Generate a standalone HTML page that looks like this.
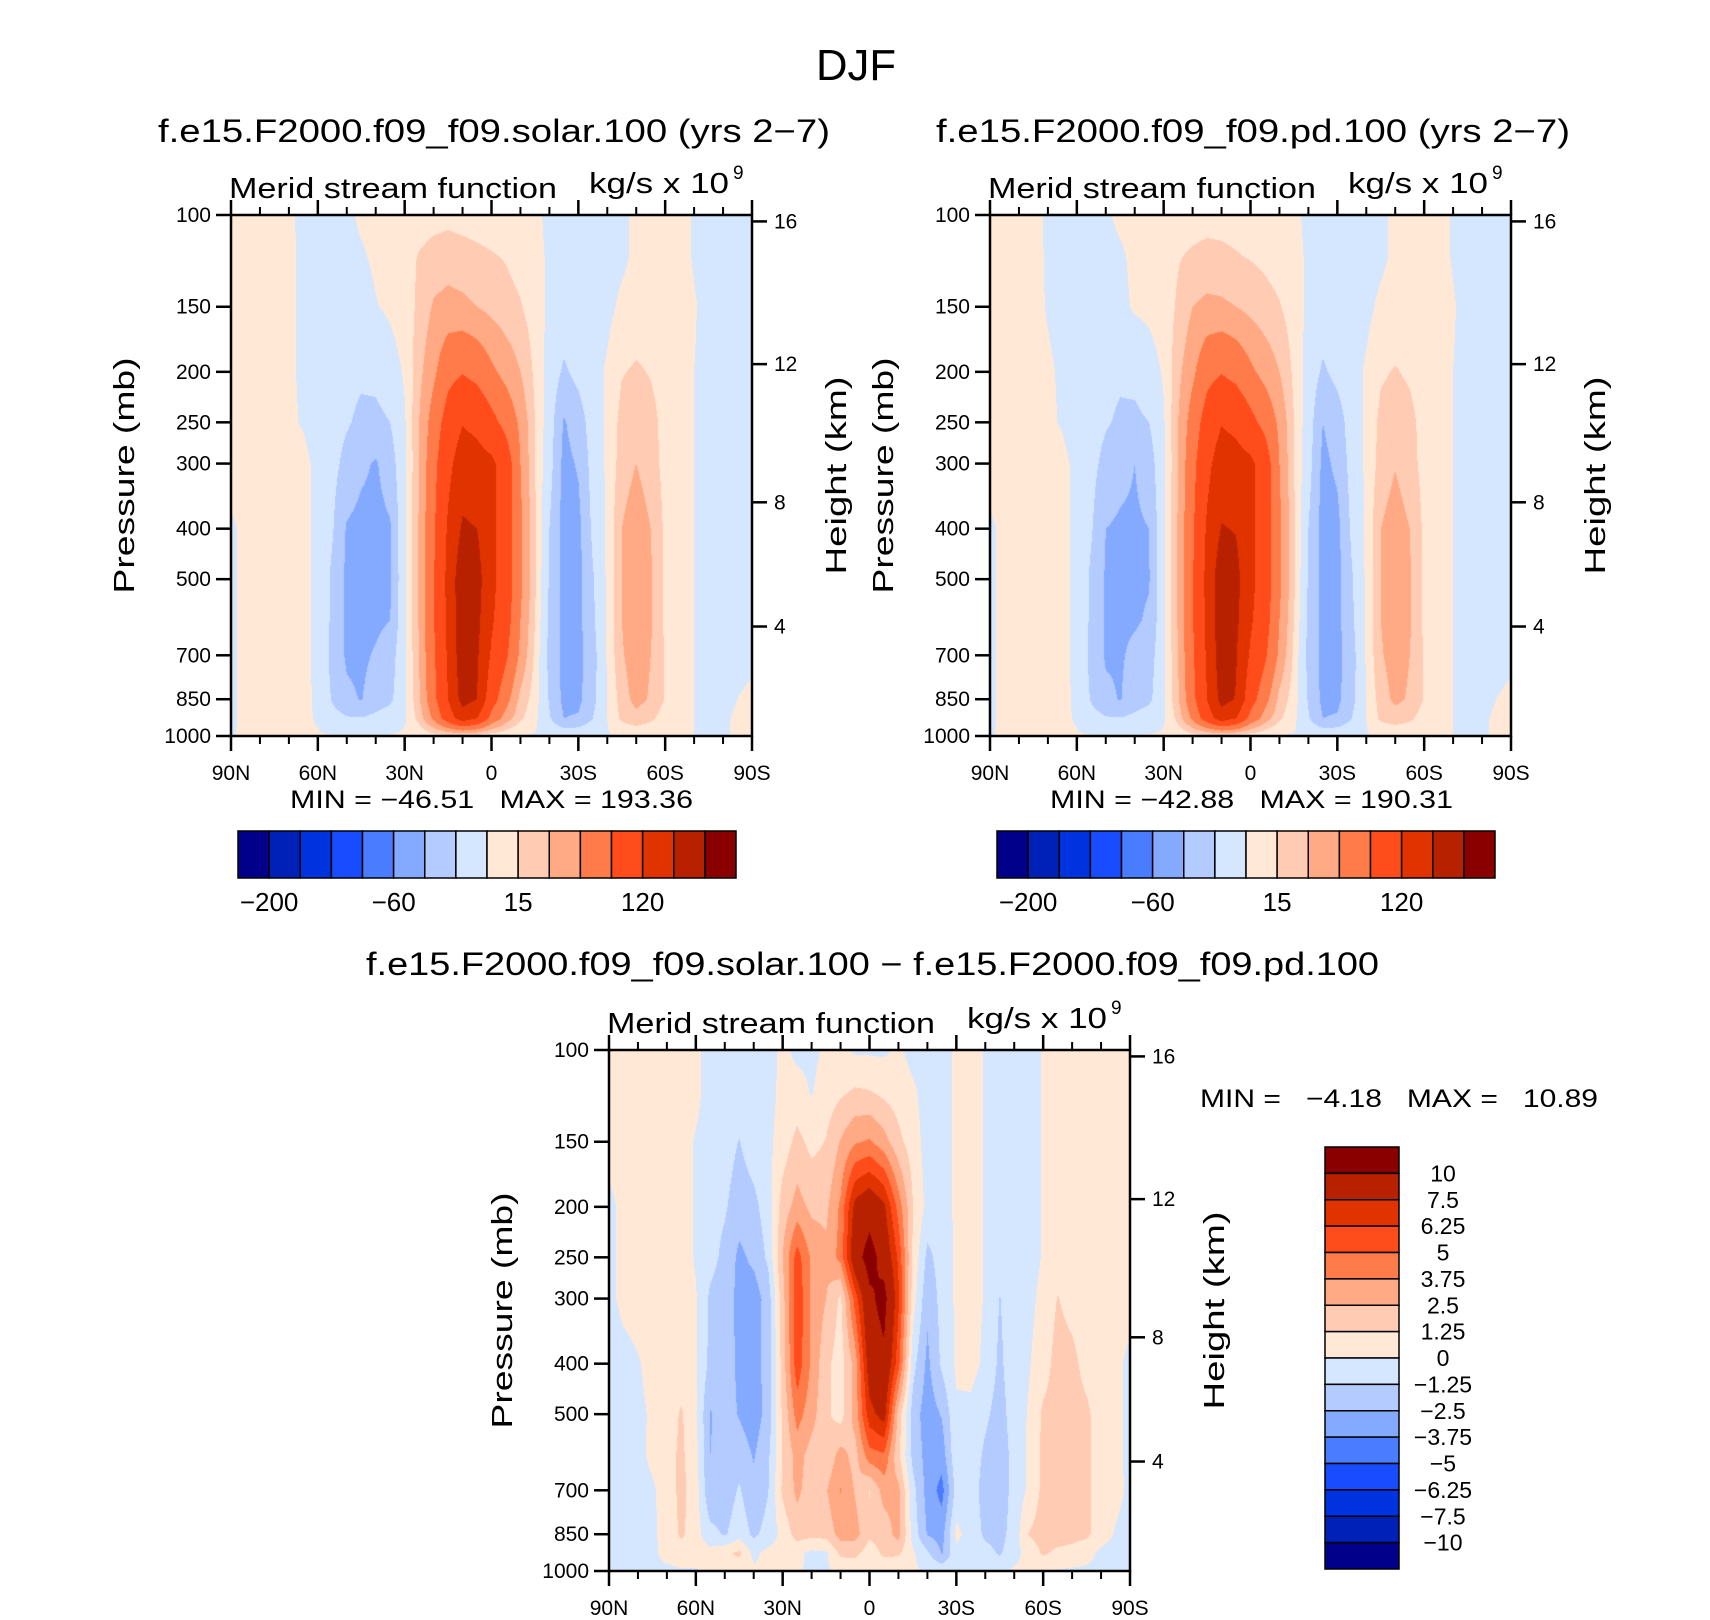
<!DOCTYPE html>
<html><head><meta charset="utf-8"><title>DJF Merid stream function</title>
<style>
html,body{margin:0;padding:0;background:#fff;}
#root{position:relative;width:1710px;height:1620px;background:#fff;overflow:hidden;}
canvas{position:absolute;}
svg{position:absolute;left:0;top:0;}
text{font-family:"Liberation Sans",sans-serif;fill:#000;}
</style></head>
<body>
<div id="root">
<canvas id="cv-solar" width="521" height="521" style="left:231px;top:215px;width:521px;height:521px"></canvas>
<canvas id="cv-pd" width="521" height="521" style="left:990px;top:215px;width:521px;height:521px"></canvas>
<canvas id="cv-diff" width="521" height="521" style="left:609px;top:1050px;width:521px;height:521px"></canvas>
<svg id="ov" width="1710" height="1620" viewBox="0 0 1710 1620">
<text x="856" y="80" font-size="44" text-anchor="middle" textLength="80" lengthAdjust="spacingAndGlyphs">DJF</text>
<text x="158" y="142" font-size="32" textLength="672" lengthAdjust="spacingAndGlyphs">f.e15.F2000.f09_f09.solar.100 (yrs 2−7)</text>
<text x="936" y="142" font-size="32" textLength="634" lengthAdjust="spacingAndGlyphs">f.e15.F2000.f09_f09.pd.100 (yrs 2−7)</text>
<text x="366" y="975" font-size="32" textLength="1013" lengthAdjust="spacingAndGlyphs">f.e15.F2000.f09_f09.solar.100 − f.e15.F2000.f09_f09.pd.100</text>
<text x="1200" y="1107" font-size="25" textLength="398" lengthAdjust="spacingAndGlyphs" xml:space="preserve">MIN =   −4.18   MAX =   10.89</text>
<text x="290" y="808" font-size="25" textLength="403" lengthAdjust="spacingAndGlyphs" xml:space="preserve">MIN = −46.51   MAX = 193.36</text>
<text x="1050" y="808" font-size="25" textLength="403" lengthAdjust="spacingAndGlyphs" xml:space="preserve">MIN = −42.88   MAX = 190.31</text>
<g id="axes"></g>
</svg>
</div>
<script>
// ---------- data ----------
const pressureLevels = [100,120,150,200,250,300,400,500,600,700,850,925,1000];
const latitudes = [90,85,80,75,70,65,60,55,50,45,40,35,30,25,20,15,10,5,0,-5,-10,-15,-20,-25,-30,-35,-40,-45,-50,-55,-60,-65,-70,-75,-80,-85,-90];
const levelsTop = [-200,-150,-100,-80,-60,-40,-20,0,15,30,50,80,120,160,200];
const levelsDiff = [-10,-7.5,-6.25,-5,-3.75,-2.5,-1.25,0,1.25,2.5,3.75,5,6.25,7.5,10];
const topBarLabels = ["−200","−60","15","120"];
const topBarLabelIdx = [0,4,8,12];
const diffBarLabels = ["10","7.5","6.25","5","3.75","2.5","1.25","0","−1.25","−2.5","−3.75","−5","−6.25","−7.5","−10"];
const pressureTicks = [100,150,200,250,300,400,500,700,850,1000];
const latMajorTicks = [90,60,30,0,-30,-60,-90];
const latMajorLabels = ["90N","60N","30N","0","30S","60S","90S"];
const latMinorTicks = [80,70,50,40,20,10,-10,-20,-40,-50,-70,-80];
const heightTicks = [4,8,12,16];
const palette = ["#00008a","#0021b8","#0033e0","#1a4cff","#4a7cff","#84aaff","#b3cbff","#d5e7ff","#ffe8d5","#ffcbb3","#ffaa84","#ff7c4a","#ff4c1a","#e03300","#b82100","#8a0000"];

const fieldSolar = [
[5,5,5,5,3,-4,-5,-5,-4,3,4,5,6,8,10,11,10,9,8,7,5,3,-3,-5,-5,-5,-5,-3,3,5,5,4,-1,-3,-5,-5,-5],
[5,5,5,5,3,-3,-6,-6,-5,-2,3,6,10,16,20,22,20,18,16,14,10,4,-2,-5,-6,-6,-5,-3,3,5,5,4,-1,-3,-5,-5,-5],
[5,5,5,5,3,-3,-8,-10,-10,-8,-1,3,8,18,32,36,34,30,25,20,16,8,-3,-8,-10,-10,-4,3,6,8,8,6,1,-4,-6,-6,-6],
[5,5,5,4,2,-2,-8,-12,-15,-17,-15,-8,2,25,45,70,78,70,55,42,30,12,-8,-23,-14,-6,2,14,17,14,9,5,0,-4,-6,-6,-6],
[5,5,5,4,2,-1,-6,-12,-18,-24,-25,-20,-2,30,62,95,118,110,90,70,45,15,-10,-42,-30,-10,3,20,24,20,10,5,0,-4,-6,-6,-6],
[5,5,5,4,3,3,-3,-14,-26,-36,-42,-30,-3,30,70,110,140,135,128,100,50,15,-12,-46,-38,-12,3,22,30,22,10,5,0,-4,-6,-6,-6],
[-2,3,5,4,3,3,-3,-18,-42,-46,-46,-42,-3,32,75,125,165,160,130,100,55,18,-20,-48,-46,-16,3,30,40,30,12,5,0,-4,-6,-6,-6],
[-2,3,5,4,3,3,-3,-24,-44,-46,-45,-43,-3,32,78,130,190,175,130,100,55,18,-22,-46,-46,-22,3,30,42,32,12,5,0,-4,-6,-6,-6],
[-2,3,5,4,3,3,-3,-24,-44,-46,-44,-40,-3,32,78,128,188,170,125,95,50,15,-24,-46,-46,-24,3,30,42,32,12,5,0,-4,-5,-5,-5],
[-2,3,5,4,3,3,-3,-26,-43,-44,-38,-30,-3,30,75,125,185,165,115,85,45,12,-26,-46,-46,-28,2,28,40,30,14,5,0,-4,-4,-3,-2],
[-2,3,5,4,3,3,-2,-22,-36,-41,-30,-24,-4,28,70,120,175,160,95,60,25,8,-22,-45,-45,-26,0,22,36,28,14,5,0,-3,-2,0,2],
[-2,3,4,3,2,2,-1,-12,-18,-19,-15,-10,-2,20,55,100,140,120,70,40,18,4,-18,-40,-38,-20,0,18,24,18,8,3,0,-2,-1,1,2],
[-1,2,3,3,2,1,1,1,1,1,1,1,2,4,8,10,10,8,5,2,-1,-1,-2,-3,-3,-2,-1,2,3,3,2,1,0,-1,-1,1,2]
];
const fieldPd = [
[5,5,5,5,-3,-5,-5,-5,-2,3,4,5,6,8,9,10,10,9,8,7,5,3,-3,-5,-5,-5,-5,-3,3,5,5,4,-1,-3,-5,-5,-5],
[5,5,5,5,-2,-5,-6,-6,-5,-2,3,6,9,14,17,19,18,16,14,12,9,4,-2,-5,-6,-6,-5,-3,3,5,5,4,-1,-3,-5,-5,-5],
[5,5,5,4,-1,-5,-8,-10,-10,-4,2,4,8,17,30,34,33,30,25,20,16,8,-3,-8,-10,-10,-4,3,6,8,8,6,1,-4,-6,-6,-6],
[5,5,5,4,2,-2,-8,-12,-15,-17,-15,-8,2,25,45,70,78,70,55,42,30,12,-8,-23,-14,-6,2,13,16,13,8,5,0,-4,-6,-6,-6],
[5,5,5,4,2,-1,-6,-12,-18,-23,-24,-20,-2,30,62,95,118,110,90,70,45,15,-10,-40,-30,-10,3,19,22,19,10,5,0,-4,-6,-6,-6],
[5,5,5,4,3,3,-3,-14,-26,-34,-40,-30,-3,30,70,110,140,135,128,100,50,15,-12,-45,-36,-12,3,21,29,21,10,5,0,-4,-6,-6,-6],
[-2,3,5,4,3,3,-3,-18,-40,-43,-43,-40,-3,32,75,125,162,158,130,100,55,18,-20,-48,-46,-16,3,30,38,30,12,5,0,-4,-6,-6,-6],
[-2,3,5,4,3,3,-3,-24,-42,-43,-43,-41,-3,32,78,130,188,172,130,100,55,18,-22,-46,-46,-22,3,30,40,32,12,5,0,-4,-6,-6,-6],
[-2,3,5,4,3,3,-3,-24,-42,-43,-42,-38,-3,32,78,128,186,168,125,95,50,15,-24,-46,-46,-24,3,30,40,32,12,5,0,-4,-5,-5,-5],
[-2,3,5,4,3,3,-3,-26,-42,-42,-36,-30,-3,30,75,125,183,163,115,85,45,12,-26,-46,-46,-28,2,28,38,30,14,5,0,-4,-4,-3,-2],
[-2,3,5,4,3,3,-2,-22,-36,-41,-30,-24,-4,28,70,120,173,158,95,60,25,8,-22,-45,-45,-26,0,22,34,28,14,5,0,-3,-2,0,2],
[-2,3,4,3,2,2,-1,-12,-18,-19,-15,-10,-2,20,55,100,140,120,70,40,18,4,-18,-40,-38,-20,0,18,22,18,8,3,0,-2,-1,1,2],
[-1,2,3,3,2,1,1,1,1,1,1,1,2,4,8,10,10,8,5,2,-1,-1,-2,-3,-3,-2,-1,2,3,3,2,1,0,-1,-1,1,2]
];
const fieldDiff = [
[.5,.5,.5,.5,.5,.5,.3,-.5,-.5,-.5,-.5,-.5,.3,-.3,-.3,.2,.3,-.2,-.2,-.2,.2,-.4,-.5,-.5,.2,.5,-.1,-.5,-.5,-.5,.1,.5,.5,.5,.5,.5,.5],
[.5,.5,.5,.5,.5,.5,.3,-.5,-.5,-.5,-.5,-.5,.4,.5,-.1,.6,1.0,1.4,1.3,.9,.6,.2,-.5,-.5,.2,.5,-.1,-.5,-.5,-.5,.1,.5,.5,.5,.5,.5,.5],
[.5,.5,.5,.5,.5,.5,-.1,-.5,-.7,-1.3,-.6,-.3,.6,1.6,.9,1.3,2.6,3.6,3.9,3.0,1.6,.6,-.5,-.5,.2,.5,-.1,-.5,-.5,-.5,.1,.5,.5,.5,.5,.5,.5],
[-.3,.3,.5,.5,.5,.5,-.1,-.8,-1.1,-1.9,-1.6,-.6,1.8,3.0,2.2,2.2,4.0,8.0,9.0,7.8,4.5,1.3,-.4,-.5,.2,.5,-.1,-.5,-.5,-.5,.1,.5,.5,.5,.5,.5,.5],
[-.3,.3,.5,.5,.5,.5,-.1,-.8,-1.6,-2.8,-2.2,-1.0,2.5,5.6,3.5,2.8,4.2,9.0,11.0,9.0,6.0,1.0,-1.6,-.7,.2,.5,-.1,-.5,-.5,-.5,.1,.5,.5,.5,.5,.5,.5],
[-.3,.3,.5,.5,.5,.4,.1,-1.5,-2.0,-2.8,-3.2,-1.9,2.0,6.0,3.5,2.5,1.0,5.5,9.5,10.8,6.5,.6,-2.2,-.8,.2,.5,-.1,-1.3,-.5,-.3,.3,1.3,.8,.5,.5,.5,.5],
[-.6,-.4,-.1,.4,.5,.5,.1,-1.6,-1.8,-2.8,-3.0,-2.0,1.8,5.8,3.5,1.6,.6,3.0,8.5,9.5,5.5,-.8,-2.8,-1.0,.2,.5,-.3,-1.5,-.5,-.1,.6,1.8,1.6,.8,.5,.3,-.3],
[-.6,-.5,-.3,.2,.6,1.4,.2,-2.6,-1.9,-2.6,-3.2,-2.0,1.5,4.3,3.0,1.5,.7,3.0,7.0,8.2,2.0,-1.8,-3.2,-2.4,-.2,-.4,-1.0,-1.8,-.6,.1,1.5,1.8,1.8,1.5,.6,.3,-.3],
[-.7,-.6,-.4,.3,.8,1.5,.4,-2.5,-2.0,-1.8,-2.6,-1.5,1.3,3.0,2.0,1.5,3.0,2.0,4.5,4.8,1.5,-1.6,-3.0,-3.2,-.3,-.5,-1.5,-2.0,-.8,.2,1.5,2.3,2.0,1.5,.6,.3,-.3],
[-.7,-.6,-.4,-.2,.6,1.6,.6,-2.4,-2.0,-1.1,-2.2,-1.3,1.5,2.8,1.8,2.4,3.8,2.4,1.2,3.0,2.8,-.8,-3.0,-4.2,-.8,-.6,-1.8,-2.0,-.8,.2,1.6,2.0,1.9,1.5,.6,.3,-.2],
[-.7,-.6,-.4,-.2,.4,1.5,.5,-.8,-1.4,-.5,-1.5,-.8,.4,1.8,1.6,1.7,3.0,3.0,1.5,1.8,3.0,-.5,-2.6,-3.0,.3,-.5,-1.5,-1.7,-.7,1.3,1.8,1.8,1.7,1.5,.6,-.1,-.4],
[-.6,-.6,-.4,-.2,.3,.5,.5,.4,1.0,1.5,-.3,.4,.5,.3,-.3,-.2,1.5,1.6,.6,1.5,1.4,.2,-1.0,-2.6,-.3,-.5,-.8,-1.4,-.5,.5,1.4,1.0,.8,.4,-.3,-.5,-.5],
[-.2,-.2,-.2,-.2,-.2,-.1,-.1,.2,.5,.5,.2,.2,.3,.2,-.3,-.2,.3,.4,.3,.4,.4,.2,-.2,-.3,-.3,-.3,-.3,-.3,.2,.3,.3,-.1,-.2,-.2,-.2,-.3,-.3]
];

// ---------- helpers ----------
const NS = "http://www.w3.org/2000/svg";
const axesG = document.getElementById('axes');
function mk(tag, attrs, parent){
  const e = document.createElementNS(NS, tag);
  for (const k in attrs) e.setAttribute(k, attrs[k]);
  (parent||axesG).appendChild(e);
  return e;
}
function hex(c){return [parseInt(c.substr(1,2),16),parseInt(c.substr(3,2),16),parseInt(c.substr(5,2),16)];}
const rgb = palette.map(hex);
const lp = pressureLevels.map(p=>Math.log10(p));
function colorIndex(v, lev){let k=0; while(k<lev.length && v>=lev[k]) k++; return k;}
function heightToP(z){
  if (z<=11) return 1013.25*Math.pow(1-0.0065*z*1000/288.15,5.25588);
  return 226.32*Math.exp(-9.80665*(z-11)*1000/(287.05*216.65));
}

function drawField(canvasId, field, lev){
  const cv = document.getElementById(canvasId);
  const ctx = cv.getContext('2d');
  const w = cv.width, h = cv.height;
  const img = ctx.createImageData(w,h);
  const nc = latitudes.length-1;
  let r = 0;
  for (let py=0; py<h; py++){
    const lv = 2 + (py+0.5)/h;
    while (r<lp.length-2 && lv>lp[r+1]) r++;
    const t = Math.min(1,Math.max(0,(lv-lp[r])/(lp[r+1]-lp[r])));
    const A = field[r], B = field[r+1];
    for (let px=0; px<w; px++){
      const c = (px+0.5)/w*nc;
      const ci = Math.min(Math.floor(c), nc-1);
      const u = c-ci;
      const v = (1-t)*((1-u)*A[ci]+u*A[ci+1]) + t*((1-u)*B[ci]+u*B[ci+1]);
      const col = rgb[colorIndex(v, lev)];
      const o = (py*w+px)*4;
      img.data[o]=col[0]; img.data[o+1]=col[1]; img.data[o+2]=col[2]; img.data[o+3]=255;
    }
  }
  ctx.putImageData(img,0,0);
}

function drawAxes(pfx, x0, y0, w, h){
  const yOf = p => y0 + Math.log10(p/100)*h;
  const xOf = lat => x0 + (90-lat)/180*w;
  const g = mk('g', {});
  
  
  pressureTicks.forEach(p=>{
    const y = yOf(p);
    const ln = mk('line',{x1:x0-15,y1:y,x2:x0,y2:y,stroke:'#000','stroke-width':2.5},g);
    
    
    const tx = mk('text',{x:x0-20,y:y+7,'font-size':21,'text-anchor':'end'},g);
    
    
    tx.textContent = String(p);
  });
  latMajorTicks.forEach((lat,i)=>{
    const x = xOf(lat);
    const a = mk('line',{x1:x,y1:y0+h,x2:x,y2:y0+h+15,stroke:'#000','stroke-width':2.5},g);
    
    
    const b = mk('line',{x1:x,y1:y0,x2:x,y2:y0-15,stroke:'#000','stroke-width':2.5},g);
    
    
    const tx = mk('text',{x:x,y:y0+h+44,'font-size':21,'text-anchor':'middle'},g);
    
    
    tx.textContent = latMajorLabels[i];
  });
  latMinorTicks.forEach(lat=>{
    const x = xOf(lat);
    const a = mk('line',{x1:x,y1:y0+h,x2:x,y2:y0+h+8,stroke:'#000','stroke-width':2},g);
    
    
    const b = mk('line',{x1:x,y1:y0,x2:x,y2:y0-8,stroke:'#000','stroke-width':2},g);
    
    
  });
  heightTicks.forEach(z=>{
    const y = yOf(heightToP(z));
    const ln = mk('line',{x1:x0+w,y1:y,x2:x0+w+15,y2:y,stroke:'#000','stroke-width':2.5},g);
    
    
    const tx = mk('text',{x:x0+w+22,y:y+7,'font-size':21},g);
    
    
    tx.textContent = String(z);
  });
  const fr = mk('rect',{x:x0,y:y0,width:w,height:h,fill:'none',stroke:'#000','stroke-width':2.5},g);
  
  
  const cy = y0 + h*0.5;
  const pt = mk('text',{x:0,y:0,'font-size':29,'text-anchor':'middle',transform:`translate(${x0-97},${cy}) rotate(-90)`,textLength:236,lengthAdjust:'spacingAndGlyphs'},g);
  
  
  pt.textContent = 'Pressure (mb)';
  const ht = mk('text',{x:0,y:0,'font-size':29,'text-anchor':'middle',transform:`translate(${x0+w+94},${cy}) rotate(-90)`,textLength:198,lengthAdjust:'spacingAndGlyphs'},g);
  
  
  ht.textContent = 'Height (km)';
  const mt = mk('text',{x:x0-2,y:y0-17,'font-size':29,textLength:328,lengthAdjust:'spacingAndGlyphs'},g);
  
  
  mt.textContent = 'Merid stream function';
  const ut = mk('text',{x:x0+358,y:y0-22,'font-size':29,textLength:140,lengthAdjust:'spacingAndGlyphs'},g);
  
  
  ut.textContent = 'kg/s x 10';
  const sp = mk('text',{x:x0+502,y:y0-36,'font-size':19},g);
  
  
  sp.textContent = '9';
}

function drawHBar(pfx, x0, y0, w, h){
  const g = mk('g',{});
  
  
  const bw = w/palette.length;
  palette.forEach((c,i)=>{
    const r = mk('rect',{x:x0+i*bw,y:y0,width:bw,height:h,fill:c,stroke:'#000','stroke-width':1.5},g);
    
    
  });
  topBarLabelIdx.forEach((k,i)=>{
    const t = mk('text',{x:x0+(k+1)*bw,y:y0+h+33,'font-size':26,'text-anchor':'middle'},g);
    
    
    t.textContent = topBarLabels[i];
  });
}

function drawVBar(pfx, x0, y0, w, h){
  const g = mk('g',{});
  
  
  const n = palette.length, bh = h/n;
  for (let i=0;i<n;i++){
    const r = mk('rect',{x:x0,y:y0+i*bh,width:w,height:bh,fill:palette[n-1-i],stroke:'#000','stroke-width':1.5},g);
    
    
  }
  diffBarLabels.forEach((s,i)=>{
    const t = mk('text',{x:x0+w+44,y:y0+(i+1)*bh+8,'font-size':23,'text-anchor':'middle'},g);
    
    
    t.textContent = s;
  });
}

drawField('cv-solar', fieldSolar, levelsTop);
drawField('cv-pd', fieldPd, levelsTop);
drawField('cv-diff', fieldDiff, levelsDiff);
drawAxes('solar', 231, 215, 521, 521);
drawAxes('pd', 990, 215, 521, 521);
drawAxes('diff', 609, 1050, 521, 521);
drawHBar('solar', 238, 831, 498, 47);
drawHBar('pd', 997, 831, 498, 47);
drawVBar('diff', 1325, 1147, 74, 422);
</script>
</body></html>
